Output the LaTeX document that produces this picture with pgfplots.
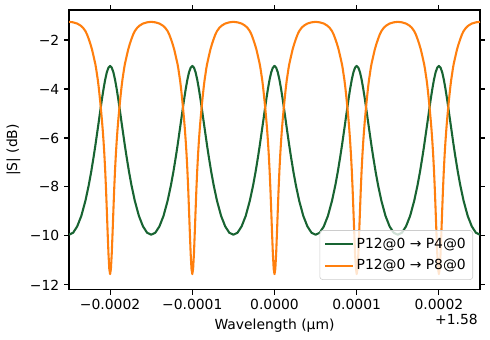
\documentclass[border=0pt]{standalone}
\usepackage{pgfplots}
\pgfplotsset{compat=1.18}
\usepackage{fontspec}
\setmainfont{DejaVu Sans}
\definecolor{cgreen}{RGB}{24,100,50}
\definecolor{corange}{HTML}{FF7F0E}
\begin{document}
\fontsize{10}{12}\selectfont
\begin{tikzpicture}
\begin{axis}[
  scale only axis,
  width=296pt, height=201.6pt,
  xmin=-250, xmax=250, ymin=-12.204, ymax=-0.776,
  axis line style={line width=0.8pt},
  tick align=outside,
  major tick length=3.5pt,
  every tick/.style={black, line width=0.8pt},
  xtick={-200,-100,0,100,200},
  xticklabels={−0.0002,−0.0001,0.0000,0.0001,0.0002},
  ytick={-12,-10,-8,-6,-4,-2},
  yticklabels={−12,−10,−8,−6,−4,−2},
  tick label style={font=\fontsize{10}{12}\selectfont},
  xlabel={Wavelength (µm)},
  ylabel={|S| (dB)},
  xlabel style={font=\fontsize{10}{12}\selectfont, yshift=0.5pt},
  ylabel style={font=\fontsize{10}{12}\selectfont},
  legend cell align=left,
  legend style={at={(0.983,0.036)}, anchor=south east, draw=black!20, fill=white, fill opacity=0.8, text opacity=1, rounded corners=2pt, font=\fontsize{10}{12}\selectfont, inner xsep=3pt, inner ysep=3.5pt, row sep=2.5pt},
  legend image code/.code={\draw[#1] (0pt,0pt) -- (20pt,0pt);},
]
\addplot[cgreen, line width=1.5pt, line join=round] coordinates {
(-250,-9.95)(-245,-9.87)(-240,-9.61)(-235,-9.18)(-230,-8.56)(-226,-7.93)(-223,-7.38)(-220,-6.76)(-218,-6.32)(-216,-5.85)(-214,-5.38)(-212,-4.90)(-210,-4.43)(-208,-4.00)(-206,-3.62)(-204,-3.32)(-202,-3.13)(-200,-3.06)(-198,-3.13)(-196,-3.32)(-194,-3.62)(-192,-4.00)(-190,-4.43)(-188,-4.90)(-186,-5.38)(-184,-5.85)(-182,-6.32)(-180,-6.76)(-177,-7.38)(-174,-7.93)(-170,-8.56)(-165,-9.18)(-160,-9.61)(-155,-9.87)(-150,-9.95)
(-145,-9.87)(-140,-9.61)(-135,-9.18)(-130,-8.56)(-126,-7.93)(-123,-7.38)(-120,-6.76)(-118,-6.32)(-116,-5.85)(-114,-5.38)(-112,-4.90)(-110,-4.43)(-108,-4.00)(-106,-3.62)(-104,-3.32)(-102,-3.13)(-100,-3.06)(-98,-3.13)(-96,-3.32)(-94,-3.62)(-92,-4.00)(-90,-4.43)(-88,-4.90)(-86,-5.38)(-84,-5.85)(-82,-6.32)(-80,-6.76)(-77,-7.38)(-74,-7.93)(-70,-8.56)(-65,-9.18)(-60,-9.61)(-55,-9.87)(-50,-9.95)
(-45,-9.87)(-40,-9.61)(-35,-9.18)(-30,-8.56)(-26,-7.93)(-23,-7.38)(-20,-6.76)(-18,-6.32)(-16,-5.85)(-14,-5.38)(-12,-4.90)(-10,-4.43)(-8,-4.00)(-6,-3.62)(-4,-3.32)(-2,-3.13)(0,-3.06)(2,-3.13)(4,-3.32)(6,-3.62)(8,-4.00)(10,-4.43)(12,-4.90)(14,-5.38)(16,-5.85)(18,-6.32)(20,-6.76)(23,-7.38)(26,-7.93)(30,-8.56)(35,-9.18)(40,-9.61)(45,-9.87)(50,-9.95)
(55,-9.87)(60,-9.61)(65,-9.18)(70,-8.56)(74,-7.93)(77,-7.38)(80,-6.76)(82,-6.32)(84,-5.85)(86,-5.38)(88,-4.90)(90,-4.43)(92,-4.00)(94,-3.62)(96,-3.32)(98,-3.13)(100,-3.06)(102,-3.13)(104,-3.32)(106,-3.62)(108,-4.00)(110,-4.43)(112,-4.90)(114,-5.38)(116,-5.85)(118,-6.32)(120,-6.76)(123,-7.38)(126,-7.93)(130,-8.56)(135,-9.18)(140,-9.61)(145,-9.87)(150,-9.95)
(155,-9.87)(160,-9.61)(165,-9.18)(170,-8.56)(174,-7.93)(177,-7.38)(180,-6.76)(182,-6.32)(184,-5.85)(186,-5.38)(188,-4.90)(190,-4.43)(192,-4.00)(194,-3.62)(196,-3.32)(198,-3.13)(200,-3.06)(202,-3.13)(204,-3.32)(206,-3.62)(208,-4.00)(210,-4.43)(212,-4.90)(214,-5.38)(216,-5.85)(218,-6.32)(220,-6.76)(223,-7.38)(226,-7.93)(230,-8.56)(235,-9.18)(240,-9.61)(245,-9.87)(250,-9.95)
};
\addlegendentry{P12@0 → P4@0}
\addplot[corange, line width=1.5pt, line join=round] coordinates {
(-250,-1.26)(-245,-1.28)(-240,-1.33)(-236,-1.41)(-233,-1.50)(-230,-1.64)(-228,-1.78)(-226,-1.96)(-224,-2.16)(-222,-2.39)(-220,-2.68)(-218,-2.98)(-217,-3.17)(-216,-3.40)(-215,-3.62)(-214,-3.89)(-213,-4.20)(-212,-4.53)(-211,-4.88)(-210,-5.25)(-209,-5.66)(-208,-6.13)(-207,-6.67)(-206,-7.31)(-205,-8.07)(-204,-8.95)(-203,-9.87)(-202,-10.72)(-201,-11.34)(-200,-11.56)(-199,-11.34)(-198,-10.72)(-197,-9.87)(-196,-8.95)(-195,-8.07)(-194,-7.31)(-193,-6.67)(-192,-6.13)(-191,-5.66)(-190,-5.25)(-189,-4.88)(-188,-4.53)(-187,-4.20)(-186,-3.89)(-185,-3.62)(-184,-3.40)(-183,-3.17)(-182,-2.98)(-180,-2.68)(-178,-2.39)(-176,-2.16)(-174,-1.96)(-172,-1.78)(-170,-1.64)(-167,-1.50)(-164,-1.41)(-160,-1.33)(-155,-1.28)(-150,-1.26)
(-145,-1.28)(-140,-1.33)(-136,-1.41)(-133,-1.50)(-130,-1.64)(-128,-1.78)(-126,-1.96)(-124,-2.16)(-122,-2.39)(-120,-2.68)(-118,-2.98)(-117,-3.17)(-116,-3.40)(-115,-3.62)(-114,-3.89)(-113,-4.20)(-112,-4.53)(-111,-4.88)(-110,-5.25)(-109,-5.66)(-108,-6.13)(-107,-6.67)(-106,-7.31)(-105,-8.07)(-104,-8.95)(-103,-9.87)(-102,-10.72)(-101,-11.34)(-100,-11.56)(-99,-11.34)(-98,-10.72)(-97,-9.87)(-96,-8.95)(-95,-8.07)(-94,-7.31)(-93,-6.67)(-92,-6.13)(-91,-5.66)(-90,-5.25)(-89,-4.88)(-88,-4.53)(-87,-4.20)(-86,-3.89)(-85,-3.62)(-84,-3.40)(-83,-3.17)(-82,-2.98)(-80,-2.68)(-78,-2.39)(-76,-2.16)(-74,-1.96)(-72,-1.78)(-70,-1.64)(-67,-1.50)(-64,-1.41)(-60,-1.33)(-55,-1.28)(-50,-1.26)
(-45,-1.28)(-40,-1.33)(-36,-1.41)(-33,-1.50)(-30,-1.64)(-28,-1.78)(-26,-1.96)(-24,-2.16)(-22,-2.39)(-20,-2.68)(-18,-2.98)(-17,-3.17)(-16,-3.40)(-15,-3.62)(-14,-3.89)(-13,-4.20)(-12,-4.53)(-11,-4.88)(-10,-5.25)(-9,-5.66)(-8,-6.13)(-7,-6.67)(-6,-7.31)(-5,-8.07)(-4,-8.95)(-3,-9.87)(-2,-10.72)(-1,-11.34)(0,-11.56)(1,-11.34)(2,-10.72)(3,-9.87)(4,-8.95)(5,-8.07)(6,-7.31)(7,-6.67)(8,-6.13)(9,-5.66)(10,-5.25)(11,-4.88)(12,-4.53)(13,-4.20)(14,-3.89)(15,-3.62)(16,-3.40)(17,-3.17)(18,-2.98)(20,-2.68)(22,-2.39)(24,-2.16)(26,-1.96)(28,-1.78)(30,-1.64)(33,-1.50)(36,-1.41)(40,-1.33)(45,-1.28)(50,-1.26)
(55,-1.28)(60,-1.33)(64,-1.41)(67,-1.50)(70,-1.64)(72,-1.78)(74,-1.96)(76,-2.16)(78,-2.39)(80,-2.68)(82,-2.98)(83,-3.17)(84,-3.40)(85,-3.62)(86,-3.89)(87,-4.20)(88,-4.53)(89,-4.88)(90,-5.25)(91,-5.66)(92,-6.13)(93,-6.67)(94,-7.31)(95,-8.07)(96,-8.95)(97,-9.87)(98,-10.72)(99,-11.34)(100,-11.56)(101,-11.34)(102,-10.72)(103,-9.87)(104,-8.95)(105,-8.07)(106,-7.31)(107,-6.67)(108,-6.13)(109,-5.66)(110,-5.25)(111,-4.88)(112,-4.53)(113,-4.20)(114,-3.89)(115,-3.62)(116,-3.40)(117,-3.17)(118,-2.98)(120,-2.68)(122,-2.39)(124,-2.16)(126,-1.96)(128,-1.78)(130,-1.64)(133,-1.50)(136,-1.41)(140,-1.33)(145,-1.28)(150,-1.26)
(155,-1.28)(160,-1.33)(164,-1.41)(167,-1.50)(170,-1.64)(172,-1.78)(174,-1.96)(176,-2.16)(178,-2.39)(180,-2.68)(182,-2.98)(183,-3.17)(184,-3.40)(185,-3.62)(186,-3.89)(187,-4.20)(188,-4.53)(189,-4.88)(190,-5.25)(191,-5.66)(192,-6.13)(193,-6.67)(194,-7.31)(195,-8.07)(196,-8.95)(197,-9.87)(198,-10.72)(199,-11.34)(200,-11.56)(201,-11.34)(202,-10.72)(203,-9.87)(204,-8.95)(205,-8.07)(206,-7.31)(207,-6.67)(208,-6.13)(209,-5.66)(210,-5.25)(211,-4.88)(212,-4.53)(213,-4.20)(214,-3.89)(215,-3.62)(216,-3.40)(217,-3.17)(218,-2.98)(220,-2.68)(222,-2.39)(224,-2.16)(226,-1.96)(228,-1.78)(230,-1.64)(233,-1.50)(236,-1.41)(240,-1.33)(245,-1.28)(250,-1.26)
};
\addlegendentry{P12@0 → P8@0}
\end{axis}
\node[anchor=east, inner sep=0pt, font=\fontsize{10}{12}\selectfont] at ([shift={(-1.4pt,-21.6pt)}]current axis.south east) {+1.58};
\pgfresetboundingbox
\path[use as bounding box] ([shift={(-49.7pt,-36pt)}]current axis.south west) rectangle ([shift={(7.2pt,7.2pt)}]current axis.north east);
\end{tikzpicture}
\end{document}
